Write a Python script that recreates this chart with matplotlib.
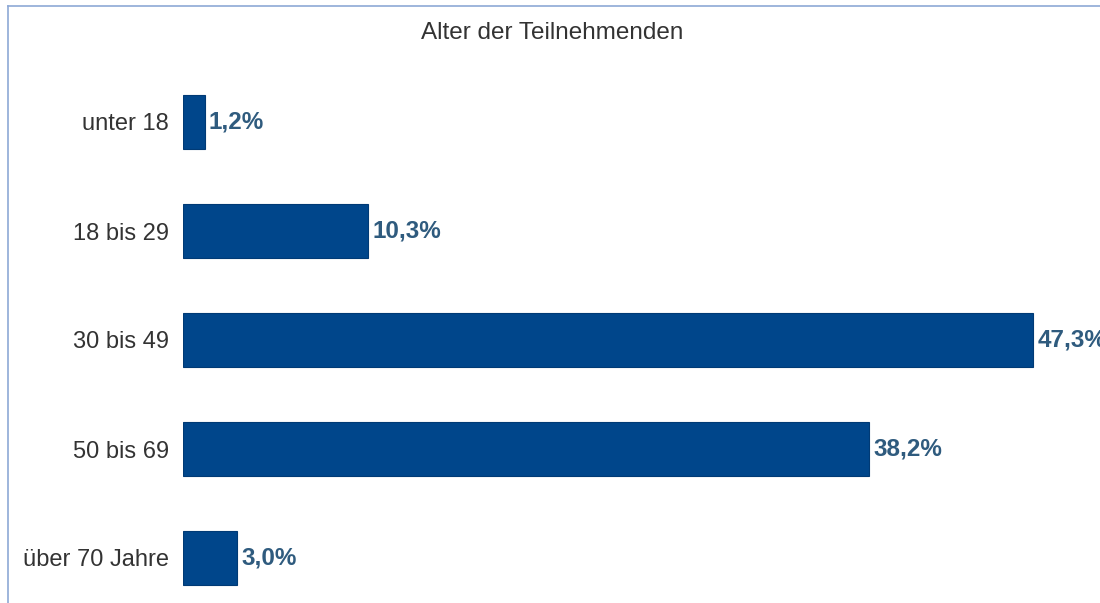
import matplotlib
matplotlib.use("Agg")
import matplotlib.pyplot as plt
from matplotlib.lines import Line2D

plt.rcParams['font.family'] = ['Liberation Sans', 'DejaVu Sans']

categories = ['unter 18', '18 bis 29', '30 bis 49', '50 bis 69', 'über 70 Jahre']
values = [1.2, 10.3, 47.3, 38.2, 3.0]
value_labels = ['1,2%', '10,3%', '47,3%', '38,2%', '3,0%']
title = 'Alter der Teilnehmenden'

fig = plt.figure(figsize=(11, 6.03), dpi=100)
ax = fig.add_axes([183 / 1100, 0, 1 - 183 / 1100, 1])

pos = list(range(len(categories)))
ax.barh(pos, values, height=0.495, color='#00468b', edgecolor='#003a75', linewidth=0.8)

# pixel layout: first bar centre at y=122, spacing 109 px, 17.97 px per percent
ax.set_xlim(0, (1100 - 183) / 17.97)
ax.set_ylim((603 - 122) / 109, -122 / 109)

for p, v, lab in zip(pos, values, value_labels):
    ax.annotate(lab, (v, p), xytext=(3, 0), textcoords='offset points',
                va='center', ha='left', fontsize=17.5, fontweight='bold', color='#2f5b7e')

ax.set_yticks(pos)
ax.set_yticklabels(categories, fontsize=17, color='#333333')
ax.tick_params(axis='y', length=0, pad=10)
ax.set_xticks([])
for s in ax.spines.values():
    s.set_visible(False)
ax.patch.set_alpha(0)

fig.text(0.502, 1 - 33 / 603, title, ha='center', va='center', fontsize=17.5, color='#333333')

# thin frame lines at left and top
fig.add_artist(Line2D([8 / 1100, 8 / 1100], [0, 1 - 6 / 603], color='#8ea9d6', lw=1.2))
fig.add_artist(Line2D([8 / 1100, 1], [1 - 6 / 603, 1 - 6 / 603], color='#8ea9d6', lw=1.2))

fig.savefig('out.png', dpi=100)
